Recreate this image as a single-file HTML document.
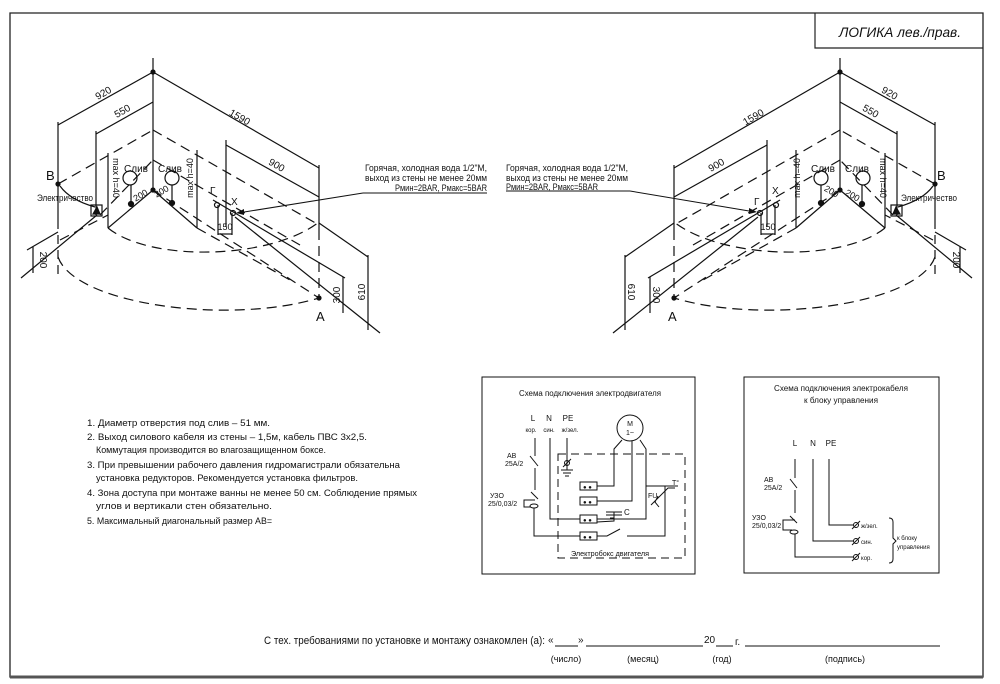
<!DOCTYPE html>
<html><head><meta charset="utf-8"><style>
html,body{margin:0;padding:0;background:#fff;}
svg{display:block;}
text{font-family:"Liberation Sans","Noto Sans CJK SC",sans-serif;fill:#111;}
</style></head><body>
<svg width="1000" height="684" viewBox="0 0 1000 684" xmlns="http://www.w3.org/2000/svg">
<rect width="1000" height="684" fill="#fff"/>
<path d="M10,13 H983 V677 H10 Z" fill="none" stroke="#222" stroke-width="1.3"/>
<line x1="10" y1="677" x2="983" y2="677" stroke="#555" stroke-width="3"/>
<path d="M815,13 V48 H983" fill="none" stroke="#222" stroke-width="1.2"/>
<text x="900" y="37" font-size="14" text-anchor="middle" font-style="italic" textLength="122" lengthAdjust="spacingAndGlyphs">ЛОГИКА лев./прав.</text>

<defs>
<g id="iso" fill="none" stroke="#111" stroke-width="1.2">
  <line x1="153" y1="58" x2="153" y2="190"/>
  <line x1="153" y1="72" x2="58" y2="125"/>
  <line x1="153" y1="72" x2="319" y2="168"/>
  <line x1="153" y1="102" x2="96" y2="134"/>
  <line x1="58" y1="122" x2="58" y2="220"/>
  <line x1="58" y1="220" x2="58" y2="275" stroke-dasharray="9,6"/>
  <line x1="96" y1="131" x2="96" y2="215"/>
  <line x1="319" y1="165" x2="319" y2="230"/>
  <line x1="319" y1="230" x2="319" y2="298" stroke-dasharray="10,6"/>
  <line x1="226" y1="145" x2="319" y2="197"/>
  <line x1="226" y1="140" x2="226" y2="227"/>
  <line x1="108" y1="153" x2="108" y2="228"/>
  <line x1="197" y1="150" x2="197" y2="228"/>
  <line x1="153" y1="190" x2="108" y2="228"/>
  <line x1="153" y1="190" x2="197" y2="228"/>
  <line x1="21" y1="278" x2="97" y2="215"/>
  <line x1="213" y1="200" x2="345" y2="278"/>
  <line x1="235" y1="217" x2="380" y2="333"/>
  <line x1="319" y1="223" x2="368" y2="257"/>
  <line x1="343" y1="277" x2="343" y2="313"/>
  <line x1="368" y1="255" x2="368" y2="330"/>
  <line x1="33" y1="247" x2="33" y2="273"/>
  <line x1="27" y1="250" x2="58" y2="232"/>
  <line x1="218" y1="205" x2="218" y2="235"/>
  <line x1="232" y1="213" x2="232" y2="235"/>
  <line x1="218" y1="234" x2="232" y2="234"/>
  <g stroke-dasharray="10,6">
    <line x1="58" y1="184" x2="153" y2="130"/>
    <line x1="153" y1="130" x2="319" y2="225"/>
    <line x1="153" y1="190" x2="319" y2="298"/>
    <line x1="100" y1="215" x2="153" y2="160"/>
    <line x1="153" y1="160" x2="300" y2="245"/>
    <line x1="60" y1="240" x2="108" y2="215"/>
    <line x1="197" y1="228" x2="290" y2="280"/>
    <path d="M58,257 C75,305 230,325 319,298"/>
    <path d="M108,228 C150,262 270,260 319,222"/>
  </g>
  <circle cx="130" cy="178" r="7"/>
  <circle cx="172" cy="178" r="7"/>
  <line x1="131" y1="185" x2="131" y2="204"/>
  <line x1="172" y1="185" x2="172" y2="203"/>
  <circle cx="131" cy="204" r="2.5" fill="#111"/>
  <circle cx="172" cy="203" r="2.5" fill="#111"/>
  <circle cx="217" cy="205" r="2.5"/>
  <circle cx="233" cy="213" r="2.5"/>
  <rect x="91" y="205" width="11" height="11"/>
  <path d="M93,214 L97,207 L100,214 Z" fill="#111"/>
  <path d="M95,207 Q70,200 60,186"/>
  <circle cx="58" cy="184" r="2" fill="#111"/>
  <circle cx="319" cy="298" r="2" fill="#111"/>
  <circle cx="153" cy="72" r="2" fill="#111"/>
  <circle cx="153" cy="190" r="2" fill="#111"/>
</g>
</defs>
<use href="#iso"/>
<use href="#iso" transform="translate(993,0) scale(-1,1)"/>

<g stroke="#111" fill="none" stroke-width="1">
<line x1="363" y1="193" x2="487" y2="193"/>
<line x1="363" y1="193" x2="238" y2="213"/>
<line x1="506" y1="191" x2="630" y2="191"/>
<line x1="630" y1="191" x2="755" y2="212"/>
</g>
<path d="M236,213 l8,-4 l0,6 z" fill="#111"/>
<path d="M757,212 l-8,-4 l0,6 z" fill="#111"/>

<g font-size="9">
<text x="487" y="171" text-anchor="end" textLength="122" lengthAdjust="spacingAndGlyphs">Горячая, холодная вода 1/2"М,</text>
<text x="487" y="181" text-anchor="end" textLength="122" lengthAdjust="spacingAndGlyphs">выход из стены не менее 20мм</text>
<text x="487" y="191" text-anchor="end" textLength="92" lengthAdjust="spacingAndGlyphs">Pмин=2BAR, Pмакс=5BAR</text>
<text x="506" y="171" textLength="122" lengthAdjust="spacingAndGlyphs">Горячая, холодная вода 1/2"М,</text>
<text x="506" y="181" textLength="122" lengthAdjust="spacingAndGlyphs">выход из стены не менее 20мм</text>
<text x="506" y="190" textLength="92" lengthAdjust="spacingAndGlyphs">Pмин=2BAR, Pмакс=5BAR</text>
</g>

<g font-size="10">
<text x="105" y="96" transform="rotate(-30 105 96)" text-anchor="middle">920</text>
<text x="124" y="114" transform="rotate(-30 124 114)" text-anchor="middle">550</text>
<text x="238" y="120" transform="rotate(30 238 120)" text-anchor="middle">1590</text>
<text x="275" y="168" transform="rotate(30 275 168)" text-anchor="middle">900</text>
<text x="340" y="295" transform="rotate(-90 340 295)" text-anchor="middle">300</text>
<text x="365" y="292" transform="rotate(-90 365 292)" text-anchor="middle">610</text>
<text x="40" y="260" transform="rotate(90 40 260)" text-anchor="middle">200</text>
<text x="225" y="230" text-anchor="middle" font-size="9">150</text>
<text x="136" y="172" text-anchor="middle">Слив</text>
<text x="170" y="172" text-anchor="middle">Слив</text>
<text x="142" y="198" text-anchor="middle" font-size="9" transform="rotate(-30 142 198)">200</text>
<text x="163" y="194" text-anchor="middle" font-size="9" transform="rotate(-30 163 194)">200</text>
<text x="113" y="178" text-anchor="middle" font-size="9" transform="rotate(90 113 178)">max h=40</text>
<text x="193" y="178" text-anchor="middle" font-size="9" transform="rotate(-90 193 178)">max h=40</text>
<text x="37" y="201" font-size="9" textLength="56" lengthAdjust="spacingAndGlyphs">Электричество</text>
<text x="46" y="180" font-size="13">B</text>
<text x="316" y="321" font-size="13">A</text>
<text x="210" y="194">Г</text>
<text x="231" y="205">Х</text>
</g>
<g font-size="10">
<text x="888" y="96" transform="rotate(30 888 96)" text-anchor="middle">920</text>
<text x="869" y="114" transform="rotate(30 869 114)" text-anchor="middle">550</text>
<text x="755" y="120" transform="rotate(-30 755 120)" text-anchor="middle">1590</text>
<text x="718" y="168" transform="rotate(-30 718 168)" text-anchor="middle">900</text>
<text x="653" y="295" transform="rotate(90 653 295)" text-anchor="middle">300</text>
<text x="628" y="292" transform="rotate(90 628 292)" text-anchor="middle">610</text>
<text x="953" y="260" transform="rotate(90 953 260)" text-anchor="middle">200</text>
<text x="768" y="230" text-anchor="middle" font-size="9">150</text>
<text x="823" y="172" text-anchor="middle">Слив</text>
<text x="857" y="172" text-anchor="middle">Слив</text>
<text x="830" y="194" text-anchor="middle" font-size="9" transform="rotate(30 830 194)">200</text>
<text x="851" y="198" text-anchor="middle" font-size="9" transform="rotate(30 851 198)">200</text>
<text x="800" y="178" text-anchor="middle" font-size="9" transform="rotate(-90 800 178)">max h=40</text>
<text x="880" y="178" text-anchor="middle" font-size="9" transform="rotate(90 880 178)">max h=40</text>
<text x="901" y="201" font-size="9" textLength="56" lengthAdjust="spacingAndGlyphs">Электричество</text>
<text x="937" y="180" font-size="13">B</text>
<text x="668" y="321" font-size="13">A</text>
<text x="754" y="205">Г</text>
<text x="772" y="194">Х</text>
</g>

<g font-size="9">
<text x="87" y="426" textLength="183" lengthAdjust="spacingAndGlyphs">1. Диаметр отверстия под слив – 51 мм.</text>
<text x="87" y="440" textLength="280" lengthAdjust="spacingAndGlyphs">2. Выход силового кабеля из стены – 1,5м, кабель ПВС 3x2,5.</text>
<text x="96" y="453" textLength="230" lengthAdjust="spacingAndGlyphs">Коммутация производится во влагозащищенном боксе.</text>
<text x="87" y="468" textLength="313" lengthAdjust="spacingAndGlyphs">3. При превышении рабочего давления гидромагистрали обязательна</text>
<text x="96" y="481" textLength="262" lengthAdjust="spacingAndGlyphs">установка редукторов. Рекомендуется установка фильтров.</text>
<text x="87" y="496" textLength="330" lengthAdjust="spacingAndGlyphs">4. Зона доступа при монтаже ванны не менее 50 см. Соблюдение прямых</text>
<text x="96" y="509" textLength="176" lengthAdjust="spacingAndGlyphs">углов и вертикали стен обязательно.</text>
<text x="87" y="524" textLength="185" lengthAdjust="spacingAndGlyphs">5. Максимальный диагональный размер АВ=</text>
</g>

<g fill="none" stroke="#111" stroke-width="1">
<rect x="482" y="377" width="213" height="197"/>
<rect x="558" y="454" width="127" height="104" stroke-dasharray="8,5"/>
<circle cx="630" cy="428" r="13"/>
<line x1="535" y1="438" x2="535" y2="456"/>
<line x1="530" y1="456" x2="538" y2="466"/>
<line x1="535" y1="468" x2="535" y2="490"/>
<line x1="531" y1="492" x2="538" y2="499"/>
<path d="M535,500 H524 V507 H531"/>
<ellipse cx="534" cy="506" rx="4" ry="2"/>
<path d="M534,508 V536 H580"/>
<path d="M550,438 V519 H580"/>
<path d="M567,438 V470 M561,470 H573 M563,473 H571 M565,476 H569"/>
<line x1="563" y1="467" x2="571" y2="459"/>
<circle cx="567" cy="463" r="2.5"/>
<rect x="580" y="482" width="17" height="8"/>
<rect x="580" y="497" width="17" height="8"/>
<rect x="580" y="515" width="17" height="8"/>
<rect x="580" y="532" width="17" height="8"/>
<path d="M622,440 L614,449 V486 H597"/>
<path d="M632,441 V501 H597"/>
<path d="M640,440 L646,449 V519 H597"/>
<path d="M597,536 H607 L620,529 M627,536 H665 V486"/>
<path d="M646,486 H666 M660,486 H678"/>
<path d="M610,518 H614 V512 M606,512 H622 M606,515 H622"/>
<path d="M614,515 V521 L597,522"/>
<path d="M658,496 l-3,6 l4,5 M651,505 L668,488 H675"/>
</g>
<g font-size="8">
<text x="590" y="396" text-anchor="middle" textLength="142" lengthAdjust="spacingAndGlyphs">Схема подключения электродвигателя</text>
<text x="533" y="421" text-anchor="middle">L</text>
<text x="549" y="421" text-anchor="middle">N</text>
<text x="568" y="421" text-anchor="middle">PE</text>
<text x="531" y="432" text-anchor="middle" font-size="6">кор.</text>
<text x="549" y="432" text-anchor="middle" font-size="6">син.</text>
<text x="570" y="432" text-anchor="middle" font-size="6">ж/зел.</text>
<text x="630" y="426" text-anchor="middle" font-size="7">M</text>
<text x="630" y="435" text-anchor="middle" font-size="7">1~</text>
<text x="507" y="458" font-size="7">AB</text>
<text x="505" y="466" font-size="7">25A/2</text>
<text x="490" y="498" font-size="7">УЗО</text>
<text x="488" y="506" font-size="7">25/0,03/2</text>
<text x="624" y="515">C</text>
<text x="648" y="498" font-size="7">FU</text>
<text x="672" y="485" font-size="7">T°</text>
<text x="610" y="556" text-anchor="middle" font-size="7" textLength="78" lengthAdjust="spacingAndGlyphs">Электробокс двигателя</text>
<g font-size="6"><text x="583" y="489">● ●</text><text x="583" y="504">● ●</text><text x="583" y="522">● ●</text><text x="583" y="539">● ●</text></g>
</g>

<g fill="none" stroke="#111" stroke-width="1">
<rect x="744" y="377" width="195" height="196"/>
<line x1="795" y1="459" x2="795" y2="478"/>
<line x1="790" y1="479" x2="797" y2="488"/>
<line x1="795" y1="490" x2="795" y2="513"/>
<line x1="790" y1="516" x2="797" y2="523"/>
<path d="M795,520 H783 V530 H792"/>
<ellipse cx="794" cy="532" rx="4" ry="2"/>
<path d="M795,534 V557 H853"/>
<path d="M813,459 V541 H853"/>
<path d="M829,459 V525 H853"/>
<circle cx="856" cy="525" r="2.5"/><line x1="852" y1="529" x2="860" y2="521"/>
<circle cx="856" cy="541" r="2.5"/><line x1="852" y1="545" x2="860" y2="537"/>
<circle cx="856" cy="557" r="2.5"/><line x1="852" y1="561" x2="860" y2="553"/>
<path d="M889,518 Q893,518 893,522 V538 L896,541 L893,544 V559 Q893,563 889,563"/>
</g>
<g font-size="8">
<text x="841" y="391" text-anchor="middle" textLength="134" lengthAdjust="spacingAndGlyphs">Схема подключения электрокабеля</text>
<text x="841" y="403" text-anchor="middle" textLength="74" lengthAdjust="spacingAndGlyphs">к блоку управления</text>
<text x="795" y="446" text-anchor="middle">L</text>
<text x="813" y="446" text-anchor="middle">N</text>
<text x="831" y="446" text-anchor="middle">PE</text>
<text x="764" y="482" font-size="7">AB</text>
<text x="764" y="490" font-size="7">25A/2</text>
<text x="752" y="520" font-size="7">УЗО</text>
<text x="752" y="528" font-size="7">25/0,03/2</text>
<text x="861" y="528" font-size="6">ж/зел.</text>
<text x="861" y="544" font-size="6">син.</text>
<text x="861" y="560" font-size="6">кор.</text>
<text x="897" y="540" font-size="6">к блоку</text>
<text x="897" y="549" font-size="6">управления</text>
</g>

<text x="264" y="644" font-size="11" textLength="281" lengthAdjust="spacingAndGlyphs">С тех. требованиями по установке и монтажу ознакомлен (а):</text>
<text x="548" y="643" font-size="10">«</text>
<text x="578" y="643" font-size="10">»</text>
<text x="704" y="643" font-size="10">20</text>
<text x="735" y="645" font-size="10">г.</text>
<g stroke="#111" stroke-width="1">
<line x1="555" y1="646" x2="578" y2="646"/>
<line x1="586" y1="646" x2="703" y2="646"/>
<line x1="716" y1="646" x2="733" y2="646"/>
<line x1="745" y1="646" x2="940" y2="646"/>
</g>
<g font-size="9" text-anchor="middle">
<text x="566" y="662">(число)</text>
<text x="643" y="662">(месяц)</text>
<text x="722" y="662">(год)</text>
<text x="845" y="662">(подпись)</text>
</g>
</svg>
</body></html>
